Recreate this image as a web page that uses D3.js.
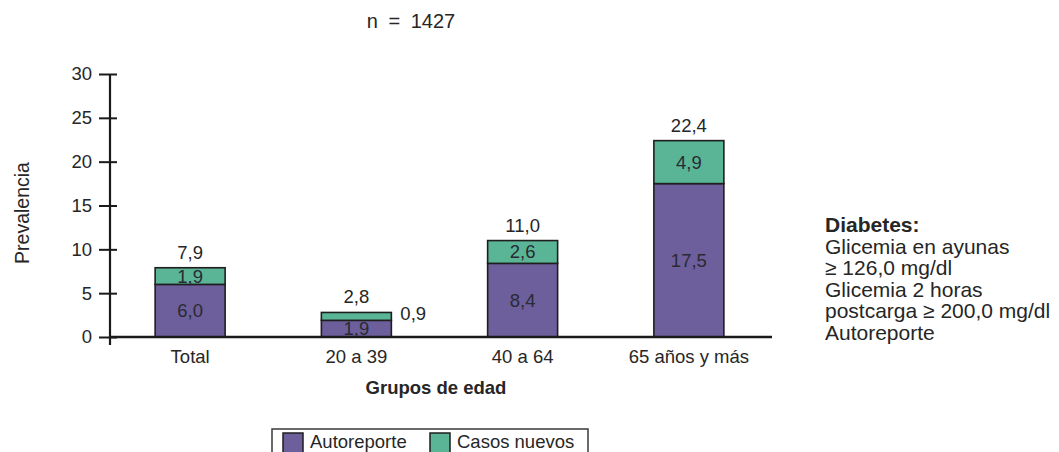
<!DOCTYPE html>
<html>
<head>
<meta charset="utf-8">
<script src="https://cdn.jsdelivr.net/npm/d3@7"></script>
<style>
  body { margin: 0; background: #ffffff; }
  text { font-family: "Liberation Sans", Arial, Helvetica, sans-serif; fill: #262626; }
</style>
</head>
<body>
<svg id="chart" width="1059" height="452"></svg>
<script>
// Prevalence of diabetes by age group (%), stacked by detection type
const categories = ["Total", "20 a 39", "40 a 64", "65 años y más"];
const autoreporte = [6.0, 1.9, 8.4, 17.5];
const casosNuevos = [1.9, 0.9, 2.6, 4.9];
const totales = [7.9, 2.8, 11.0, 22.4];
const yTicks = [0, 5, 10, 15, 20, 25, 30];
const seriesNames = ["Autoreporte", "Casos nuevos"];
const seriesColors = ["#6c5f9b", "#5ab597"];
const notaLineas = ["Diabetes:", "Glicemia en ayunas", "≥ 126,0 mg/dl", "Glicemia 2 horas", "postcarga ≥ 200,0 mg/dl", "Autoreporte"];

const svg = d3.select("#chart");
const fmt = v => d3.format(".1f")(v).replace(".", ",");
const FS = 18.5;

const y = d3.scaleLinear().domain([0, 30]).range([337, 74]);
const x = d3.scaleBand()
  .domain(categories)
  .range([107, 772])
  .paddingInner(0.579)
  .paddingOuter(0.2895);
const color = d3.scaleOrdinal().domain(seriesNames).range(seriesColors);

const rows = categories.map((c, i) => ({
  cat: c,
  "Autoreporte": autoreporte[i],
  "Casos nuevos": casosNuevos[i],
  total: totales[i]
}));
const layers = d3.stack().keys(seriesNames)(rows);

// title
svg.append("text")
  .attr("x", 411).attr("y", 27.5)
  .attr("text-anchor", "middle")
  .style("font-size", "20px")
  .style("word-spacing", "5px")
  .text("n = 1427");

// stacked bars
const gBars = svg.append("g");
layers.forEach(layer => {
  gBars.selectAll(null)
    .data(layer)
    .join("rect")
    .attr("x", d => x(d.data.cat))
    .attr("y", d => y(d[1]))
    .attr("width", x.bandwidth())
    .attr("height", d => y(d[0]) - y(d[1]))
    .attr("fill", color(layer.key))
    .attr("stroke", "#1e1e1e")
    .attr("stroke-width", 1.6);
});

// segment value labels (small segments are labelled beside the bar)
layers.forEach(layer => {
  gBars.selectAll(null)
    .data(layer)
    .join("text")
    .each(function (d) {
      const v = d[1] - d[0];
      const inside = v >= 1.2;
      const ym = (y(d[0]) + y(d[1])) / 2;
      d3.select(this)
        .attr("x", inside ? x(d.data.cat) + x.bandwidth() / 2 : x(d.data.cat) + x.bandwidth() + 9)
        .attr("y", inside ? ym : ym - 3)
        .attr("dy", "0.35em")
        .attr("text-anchor", inside ? "middle" : "start")
        .style("font-size", FS + "px")
        .style("fill", inside ? "#2a2a33" : "#262626")
        .text(fmt(v));
    });
});

// totals above bars
gBars.selectAll(null)
  .data(rows)
  .join("text")
  .attr("x", d => x(d.cat) + x.bandwidth() / 2)
  .attr("y", d => y(d.total) - 9)
  .attr("text-anchor", "middle")
  .style("font-size", FS + "px")
  .text(d => fmt(d.total));

// y axis: ticks cross the axis line
const gy = svg.append("g")
  .attr("transform", "translate(110,0)")
  .call(d3.axisLeft(y).tickValues(yTicks).tickSize(0).tickPadding(18).tickFormat(d3.format("d")));
gy.select(".domain").remove();
gy.selectAll(".tick line")
  .attr("x1", -11).attr("x2", 7)
  .attr("stroke", "#1a1a1a").attr("stroke-width", 2);
gy.selectAll(".tick text")
  .style("font-size", FS + "px")
  .style("font-family", "\"Liberation Sans\", Arial, sans-serif")
  .attr("fill", "#262626");
gy.append("line")
  .attr("x1", 0).attr("x2", 0)
  .attr("y1", y(30)).attr("y2", y(0) + 8)
  .attr("stroke", "#1a1a1a").attr("stroke-width", 2.2);

// x axis
const gx = svg.append("g")
  .attr("transform", "translate(0,337)")
  .call(d3.axisBottom(x).tickSize(0).tickPadding(12.5));
gx.select(".domain").remove();
gx.selectAll(".tick text")
  .style("font-size", FS + "px")
  .style("font-family", "\"Liberation Sans\", Arial, sans-serif")
  .attr("fill", "#262626");
gx.append("line")
  .attr("x1", 110).attr("x2", 772)
  .attr("y1", 0).attr("y2", 0)
  .attr("stroke", "#1a1a1a").attr("stroke-width", 2.6);

// axis titles
svg.append("text")
  .attr("x", 436).attr("y", 394)
  .attr("text-anchor", "middle")
  .style("font-size", FS + "px")
  .style("font-weight", "bold")
  .text("Grupos de edad");

svg.append("text")
  .attr("transform", "translate(29,213) rotate(-90)")
  .attr("text-anchor", "middle")
  .style("font-size", "19.5px")
  .text("Prevalencia");

// side note with diagnostic criteria
const nota = svg.append("text")
  .attr("x", 825).attr("y", 232)
  .style("font-size", "21px");
nota.selectAll("tspan")
  .data(notaLineas)
  .join("tspan")
  .attr("x", 825)
  .attr("dy", (d, i) => i === 0 ? 0 : 21.5)
  .style("font-weight", (d, i) => i === 0 ? "bold" : "normal")
  .text(d => d);

// legend
const gLeg = svg.append("g").attr("transform", "translate(272,429)");
gLeg.append("rect")
  .attr("x", 0).attr("y", 0)
  .attr("width", 316).attr("height", 32)
  .attr("fill", "#ffffff")
  .attr("stroke", "#3a3a3a").attr("stroke-width", 1.5);
const legX = [11, 158];
seriesNames.forEach((name, i) => {
  const g = gLeg.append("g").attr("transform", `translate(${legX[i]},4)`);
  g.append("rect")
    .attr("width", 20).attr("height", 20)
    .attr("fill", color(name))
    .attr("stroke", "#1e1e1e").attr("stroke-width", 1.5);
  g.append("text")
    .attr("x", 27).attr("y", 15)
    .style("font-size", FS + "px")
    .text(name);
});
</script>
</body>
</html>
